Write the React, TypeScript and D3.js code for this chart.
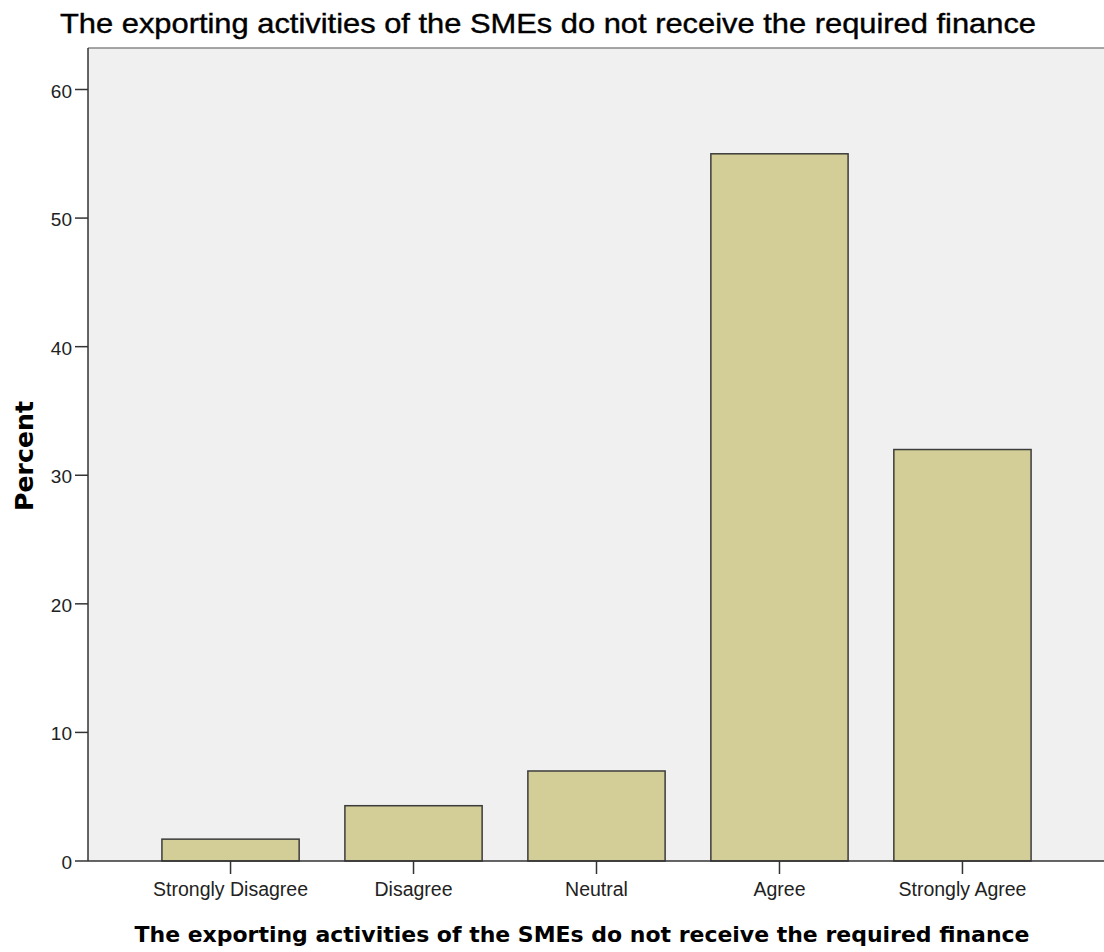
import React from "react";
import * as d3 from "d3";

const categories = ["Strongly Disagree", "Disagree", "Neutral", "Agree", "Strongly Agree"];
const percents = [1.7, 4.3, 7.0, 55.0, 32.0];
const yTicks = [0, 10, 20, 30, 40, 50, 60];

const title = "The exporting activities of the SMEs do not receive the required finance";
const xTitle = "The exporting activities of the SMEs do not receive the required finance";
const yTitle = "Percent";

const W = 1104;
const H = 952;
const margin = { top: 48, right: 0, bottom: 91, left: 88 };

export default function App() {
  const x = d3
    .scaleBand<string>()
    .domain(categories)
    .range([margin.left, W + 1])
    .paddingInner(0.25)
    .paddingOuter(0.404);

  const y = d3
    .scaleLinear()
    .domain([0, 60])
    .range([H - margin.bottom, 89.5]);

  const y0 = y(0);

  return (
    <svg
      width={W}
      height={H}
      style={{ position: "absolute", left: 0, top: 0, background: "#fff" }}
      fontFamily="'Liberation Sans', Arial, sans-serif"
    >
      <text
        x={548}
        y={33}
        textAnchor="middle"
        fontSize={28}
        textLength={976}
        lengthAdjust="spacingAndGlyphs"
        fill="#000"
        stroke="#000"
        strokeWidth={0.4}
      >
        {title}
      </text>

      {/* plot area */}
      <rect
        x={margin.left}
        y={margin.top}
        width={W - margin.left}
        height={y0 - margin.top}
        fill="#f0f0f0"
      />
      <line x1={margin.left} x2={W} y1={margin.top} y2={margin.top} stroke="#888" strokeWidth={1.5} />

      {categories.map((c, i) => (
        <rect
          key={c}
          x={x(c)}
          y={y(percents[i])}
          width={x.bandwidth()}
          height={y0 - y(percents[i])}
          fill="#d3ce97"
          stroke="#3c3c3c"
          strokeWidth={1.5}
        />
      ))}

      {/* axes */}
      <line x1={margin.left} x2={margin.left} y1={margin.top} y2={y0} stroke="#333" strokeWidth={1.5} />
      <line x1={margin.left} x2={W} y1={y0} y2={y0} stroke="#333" strokeWidth={1.5} />

      {yTicks.map((t) => (
        <g key={t} transform={`translate(0,${y(t)})`}>
          <line x1={margin.left - 13} x2={margin.left} stroke="#333" strokeWidth={1.5} />
          <text x={margin.left - 16} y={8} textAnchor="end" fontSize={19} fill="#222">
            {t}
          </text>
        </g>
      ))}

      {categories.map((c) => {
        const cx = (x(c) ?? 0) + x.bandwidth() / 2;
        return (
          <g key={c} transform={`translate(${cx},${y0})`}>
            <line y1={0} y2={13} stroke="#333" strokeWidth={1.5} />
            <text y={35} textAnchor="middle" fontSize={19.5} fill="#222">
              {c}
            </text>
          </g>
        );
      })}

      <text
        x={582}
        y={942}
        textAnchor="middle"
        fontSize={22}
        textLength={895}
        lengthAdjust="spacingAndGlyphs"
        fontWeight="bold"
        fontFamily="'DejaVu Sans', sans-serif"
        fill="#000"
      >
        {xTitle}
      </text>
      <text
        transform={`translate(33,456) rotate(-90)`}
        textAnchor="middle"
        fontSize={25}
        textLength={110}
        lengthAdjust="spacingAndGlyphs"
        fontWeight="bold"
        fontFamily="'DejaVu Sans', sans-serif"
        fill="#000"
      >
        {yTitle}
      </text>
    </svg>
  );
}
